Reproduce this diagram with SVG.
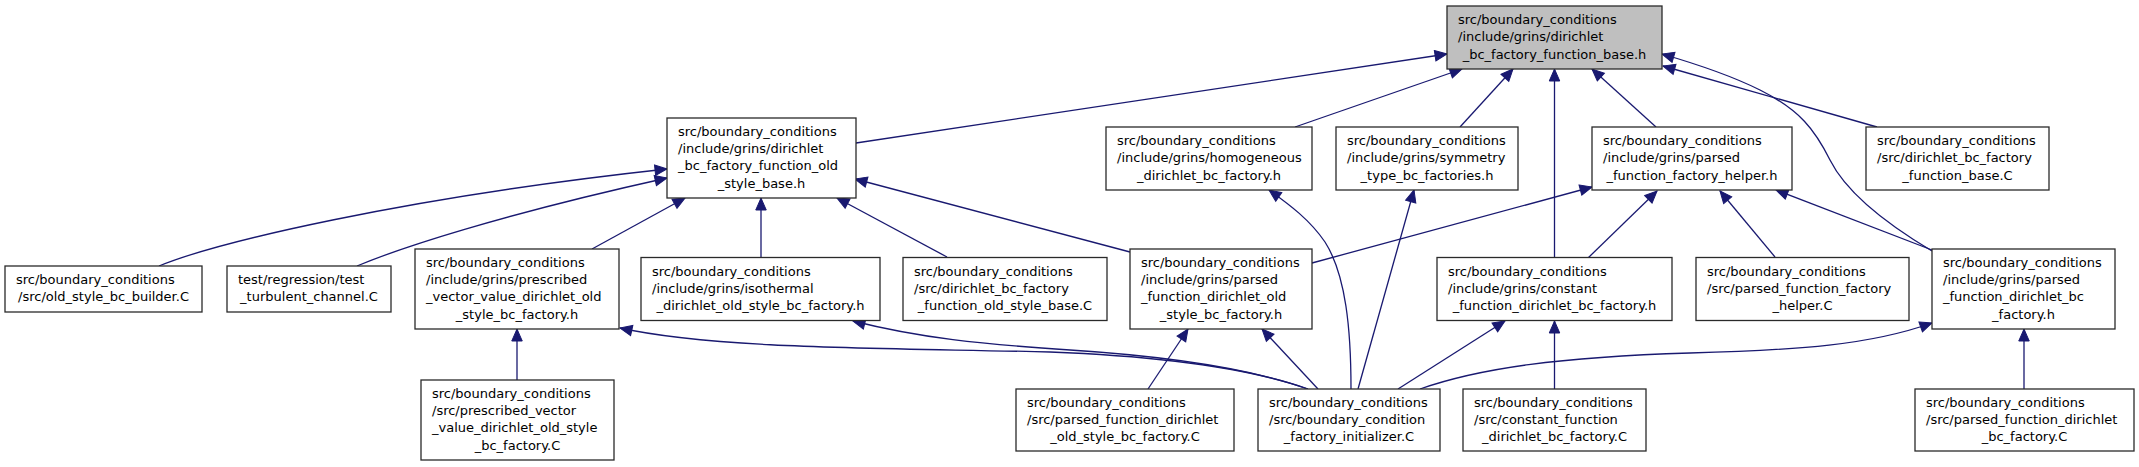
<svg xmlns="http://www.w3.org/2000/svg" width="2139" height="467" viewBox="0 0 2139 467">
<style>
.n rect{fill:#ffffff;stroke:#2a2a2a;stroke-width:1.3}
.n.root rect{fill:#bfbfbf}
.n text{font-family:"DejaVu Sans",sans-serif;font-size:13px;fill:#000}
.n text.c{text-anchor:middle}
.e path{fill:none;stroke:#191970;stroke-width:1.3;marker-end:url(#ah)}
</style>
<defs>
<marker id="ah" markerUnits="userSpaceOnUse" markerWidth="12" markerHeight="11" refX="12" refY="5.25" orient="auto" overflow="visible">
<path d="M0,0 L12,5.25 L0,10.5 Z" fill="#191970" stroke="#191970" stroke-width="1"/>
</marker>
</defs>
<rect width="2139" height="467" fill="#ffffff"/>
<g id="edges" class="e">
<path d="M856,143 L1447,54"/>
<path d="M1295,127 L1462,69"/>
<path d="M1460,127 L1513,69"/>
<path d="M1554.5,257 L1554.5,69"/>
<path d="M1656,127 L1592,69"/>
<path d="M1877,127 L1663,66"/>
<path d="M1932,251 C1880,220 1845,190 1830,160 C1815,130 1800,110 1760,90 C1730,75 1700,65 1662,54"/>
<path d="M159,266 C215,243 400,198 667,169"/>
<path d="M357,266 C400,248 500,215 667,178"/>
<path d="M592,249 L685,198"/>
<path d="M761,257 L761,198"/>
<path d="M947,257 L837,198"/>
<path d="M1130,252 L855,179"/>
<path d="M517,380 L517,329"/>
<path d="M1308,389 C1260,372 1180,357 1050,352 C900,348 720,350 620,328"/>
<path d="M1308,389 C1260,372 1180,357 1070,350 C980,344 920,338 853,321"/>
<path d="M1148,389 L1188,329"/>
<path d="M1318,389 L1262,329"/>
<path d="M1351,389 C1351,330 1346,275 1325,242 C1310,220 1290,205 1269,190"/>
<path d="M1358,389 L1414,190"/>
<path d="M1398,389 L1505,321"/>
<path d="M1420,389 C1480,368 1560,357 1690,353 C1800,350 1870,345 1932,323"/>
<path d="M1554.5,389 L1554.5,321"/>
<path d="M1312,263 L1592,187"/>
<path d="M1588,258 L1657,191"/>
<path d="M1775,257 L1720,191"/>
<path d="M1932,250 L1776,190"/>
<path d="M2024,389 L2024,329"/>
</g>
<g id="root" class="n root">
<rect x="1447" y="6" width="215" height="63"/>
<text x="1458" y="24.1">src/boundary_conditions</text>
<text x="1458" y="41.3">/include/grins/dirichlet</text>
<text class="c" x="1554.5" y="58.5">_bc_factory_function_base.h</text>
</g>
<g id="old_style_base_h" class="n">
<rect x="667" y="118" width="189" height="80"/>
<text x="678" y="136">src/boundary_conditions</text>
<text x="678" y="153.2">/include/grins/dirichlet</text>
<text x="678" y="170.4">_bc_factory_function_old</text>
<text class="c" x="761.5" y="187.6">_style_base.h</text>
</g>
<g id="homogeneous_h" class="n">
<rect x="1106" y="127" width="206" height="63"/>
<text x="1117" y="145.1">src/boundary_conditions</text>
<text x="1117" y="162.3">/include/grins/homogeneous</text>
<text class="c" x="1209" y="179.5">_dirichlet_bc_factory.h</text>
</g>
<g id="symmetry_h" class="n">
<rect x="1336" y="127" width="182" height="63"/>
<text x="1347" y="145.1">src/boundary_conditions</text>
<text x="1347" y="162.3">/include/grins/symmetry</text>
<text class="c" x="1427" y="179.5">_type_bc_factories.h</text>
</g>
<g id="helper_h" class="n">
<rect x="1592" y="127" width="200" height="63"/>
<text x="1603" y="145.1">src/boundary_conditions</text>
<text x="1603" y="162.3">/include/grins/parsed</text>
<text class="c" x="1692" y="179.5">_function_factory_helper.h</text>
</g>
<g id="base_C" class="n">
<rect x="1866" y="127" width="183" height="63"/>
<text x="1877" y="145.1">src/boundary_conditions</text>
<text x="1877" y="162.3">/src/dirichlet_bc_factory</text>
<text class="c" x="1957.5" y="179.5">_function_base.C</text>
</g>
<g id="old_style_bc_builder_C" class="n">
<rect x="5" y="266" width="197" height="46"/>
<text x="16" y="284.2">src/boundary_conditions</text>
<text class="c" x="103.5" y="301.4">/src/old_style_bc_builder.C</text>
</g>
<g id="test_turbulent_channel_C" class="n">
<rect x="227" y="266" width="164" height="46"/>
<text x="238" y="284.2">test/regression/test</text>
<text class="c" x="309" y="301.4">_turbulent_channel.C</text>
</g>
<g id="prescribed_h" class="n">
<rect x="415" y="249" width="204" height="80"/>
<text x="426" y="267">src/boundary_conditions</text>
<text x="426" y="284.2">/include/grins/prescribed</text>
<text x="426" y="301.4">_vector_value_dirichlet_old</text>
<text class="c" x="517" y="318.6">_style_bc_factory.h</text>
</g>
<g id="isothermal_h" class="n">
<rect x="641" y="257.5" width="239" height="63"/>
<text x="652" y="275.6">src/boundary_conditions</text>
<text x="652" y="292.8">/include/grins/isothermal</text>
<text class="c" x="760.5" y="310">_dirichlet_old_style_bc_factory.h</text>
</g>
<g id="old_style_base_C" class="n">
<rect x="903" y="257.5" width="204" height="63"/>
<text x="914" y="275.6">src/boundary_conditions</text>
<text x="914" y="292.8">/src/dirichlet_bc_factory</text>
<text class="c" x="1005" y="310">_function_old_style_base.C</text>
</g>
<g id="parsed_old_h" class="n">
<rect x="1130" y="249" width="182" height="80"/>
<text x="1141" y="267">src/boundary_conditions</text>
<text x="1141" y="284.2">/include/grins/parsed</text>
<text x="1141" y="301.4">_function_dirichlet_old</text>
<text class="c" x="1221" y="318.6">_style_bc_factory.h</text>
</g>
<g id="constant_h" class="n">
<rect x="1437" y="257.5" width="235" height="63"/>
<text x="1448" y="275.6">src/boundary_conditions</text>
<text x="1448" y="292.8">/include/grins/constant</text>
<text class="c" x="1554.5" y="310">_function_dirichlet_bc_factory.h</text>
</g>
<g id="helper_C" class="n">
<rect x="1696" y="257.5" width="213" height="63"/>
<text x="1707" y="275.6">src/boundary_conditions</text>
<text x="1707" y="292.8">/src/parsed_function_factory</text>
<text class="c" x="1802.5" y="310">_helper.C</text>
</g>
<g id="parsed_bc_h" class="n">
<rect x="1932" y="249" width="183" height="80"/>
<text x="1943" y="267">src/boundary_conditions</text>
<text x="1943" y="284.2">/include/grins/parsed</text>
<text x="1943" y="301.4">_function_dirichlet_bc</text>
<text class="c" x="2023.5" y="318.6">_factory.h</text>
</g>
<g id="prescribed_C" class="n">
<rect x="421" y="380" width="193" height="80"/>
<text x="432" y="398">src/boundary_conditions</text>
<text x="432" y="415.2">/src/prescribed_vector</text>
<text x="432" y="432.4">_value_dirichlet_old_style</text>
<text class="c" x="517.5" y="449.6">_bc_factory.C</text>
</g>
<g id="parsed_old_C" class="n">
<rect x="1016" y="389" width="218" height="62"/>
<text x="1027" y="406.6">src/boundary_conditions</text>
<text x="1027" y="423.8">/src/parsed_function_dirichlet</text>
<text class="c" x="1125" y="441">_old_style_bc_factory.C</text>
</g>
<g id="initializer_C" class="n">
<rect x="1258" y="389" width="182" height="62"/>
<text x="1269" y="406.6">src/boundary_conditions</text>
<text x="1269" y="423.8">/src/boundary_condition</text>
<text class="c" x="1349" y="441">_factory_initializer.C</text>
</g>
<g id="constant_C" class="n">
<rect x="1463" y="389" width="183" height="62"/>
<text x="1474" y="406.6">src/boundary_conditions</text>
<text x="1474" y="423.8">/src/constant_function</text>
<text class="c" x="1554.5" y="441">_dirichlet_bc_factory.C</text>
</g>
<g id="parsed_bc_C" class="n">
<rect x="1915" y="389" width="219" height="62"/>
<text x="1926" y="406.6">src/boundary_conditions</text>
<text x="1926" y="423.8">/src/parsed_function_dirichlet</text>
<text class="c" x="2024.5" y="441">_bc_factory.C</text>
</g>
</svg>
